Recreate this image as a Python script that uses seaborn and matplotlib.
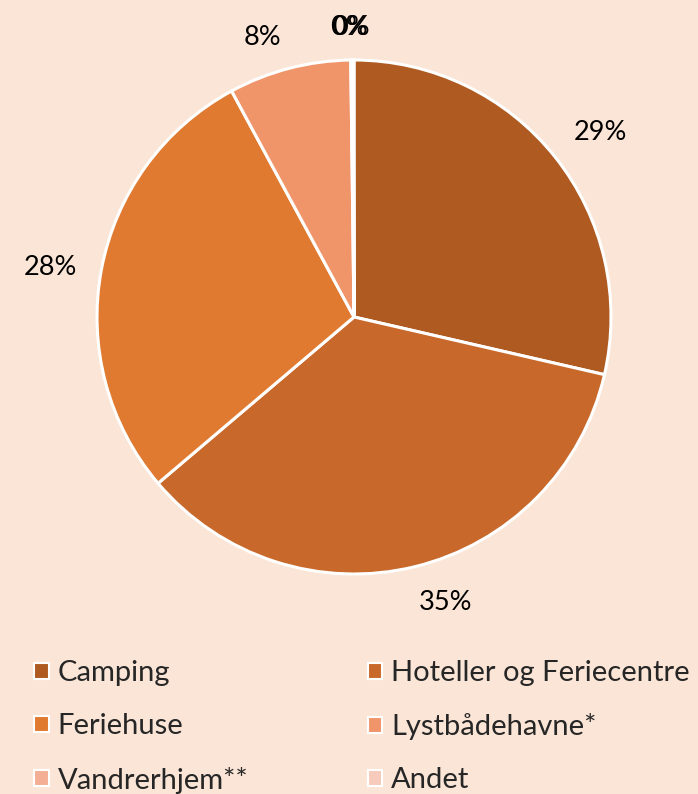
import numpy as np
import matplotlib.pyplot as plt
import matplotlib.patches as mpatches
import seaborn as sns

# Data
categories = ['Camping', 'Hoteller og Feriecentre', 'Feriehuse',
              'Lystbådehavne*', 'Vandrerhjem**', 'Andet']
shares = [28.6, 35.2, 28.3, 7.7, 0.15, 0.05]
colors = ['#AE5A21', '#C8682A', '#E07A30', '#F0956A', '#F3AE95', '#F6CBBB']
bg = '#FBE5D6'

sns.set_theme(style='white')
plt.rcParams['font.family'] = ['Lato', 'DejaVu Sans']

fig = plt.figure(figsize=(6.98, 7.94), dpi=100)
fig.patch.set_facecolor(bg)

# Pie axes placed so centre ~ (354, 317) px, radius ~257 px
W, H = 698, 794
cx, cy, r = 354, 317, 257
ax = fig.add_axes([(cx - r) / W, (H - cy - r) / H, 2 * r / W, 2 * r / H])
ax.set_facecolor(bg)

wedges, texts, autotexts = ax.pie(
    shares, colors=colors, startangle=90, counterclock=False,
    autopct='%.0f%%', pctdistance=1.18, radius=1,
    wedgeprops=dict(edgecolor='white', linewidth=2.2),
    textprops=dict(fontsize=19.5, color='black'))

# "best fit" style label placement: distance and small angle shift per slice
label_dist = [1.197, 1.168, 1.198, 1.143, 1.128, 1.128]
label_shift = [-1.6, 4.0, 1.4, 3.6, 0.6, 0.6]
for w, t, d, s in zip(wedges, autotexts, label_dist, label_shift):
    ang = np.deg2rad((w.theta1 + w.theta2) / 2 + s)
    t.set_position((d * np.cos(ang), d * np.sin(ang)))

ax.set_xlim(-1, 1)
ax.set_ylim(-1, 1)
ax.set_aspect('equal')
ax.axis('off')

# Legend, filled row by row
order = [0, 2, 4, 1, 3, 5]
handles = [mpatches.Patch(facecolor=colors[i], edgecolor='white', linewidth=1.5,
                          label=categories[i]) for i in order]
fig.legend(handles=handles, ncol=2, loc='upper left',
           bbox_to_anchor=(8 / W, 1 - 634 / H), frameon=False,
           fontsize=21, handlelength=0.5, handleheight=0.5,
           handletextpad=0.3, columnspacing=4.1, labelspacing=0.93)

plt.savefig('out.png', dpi=100, facecolor=bg)
